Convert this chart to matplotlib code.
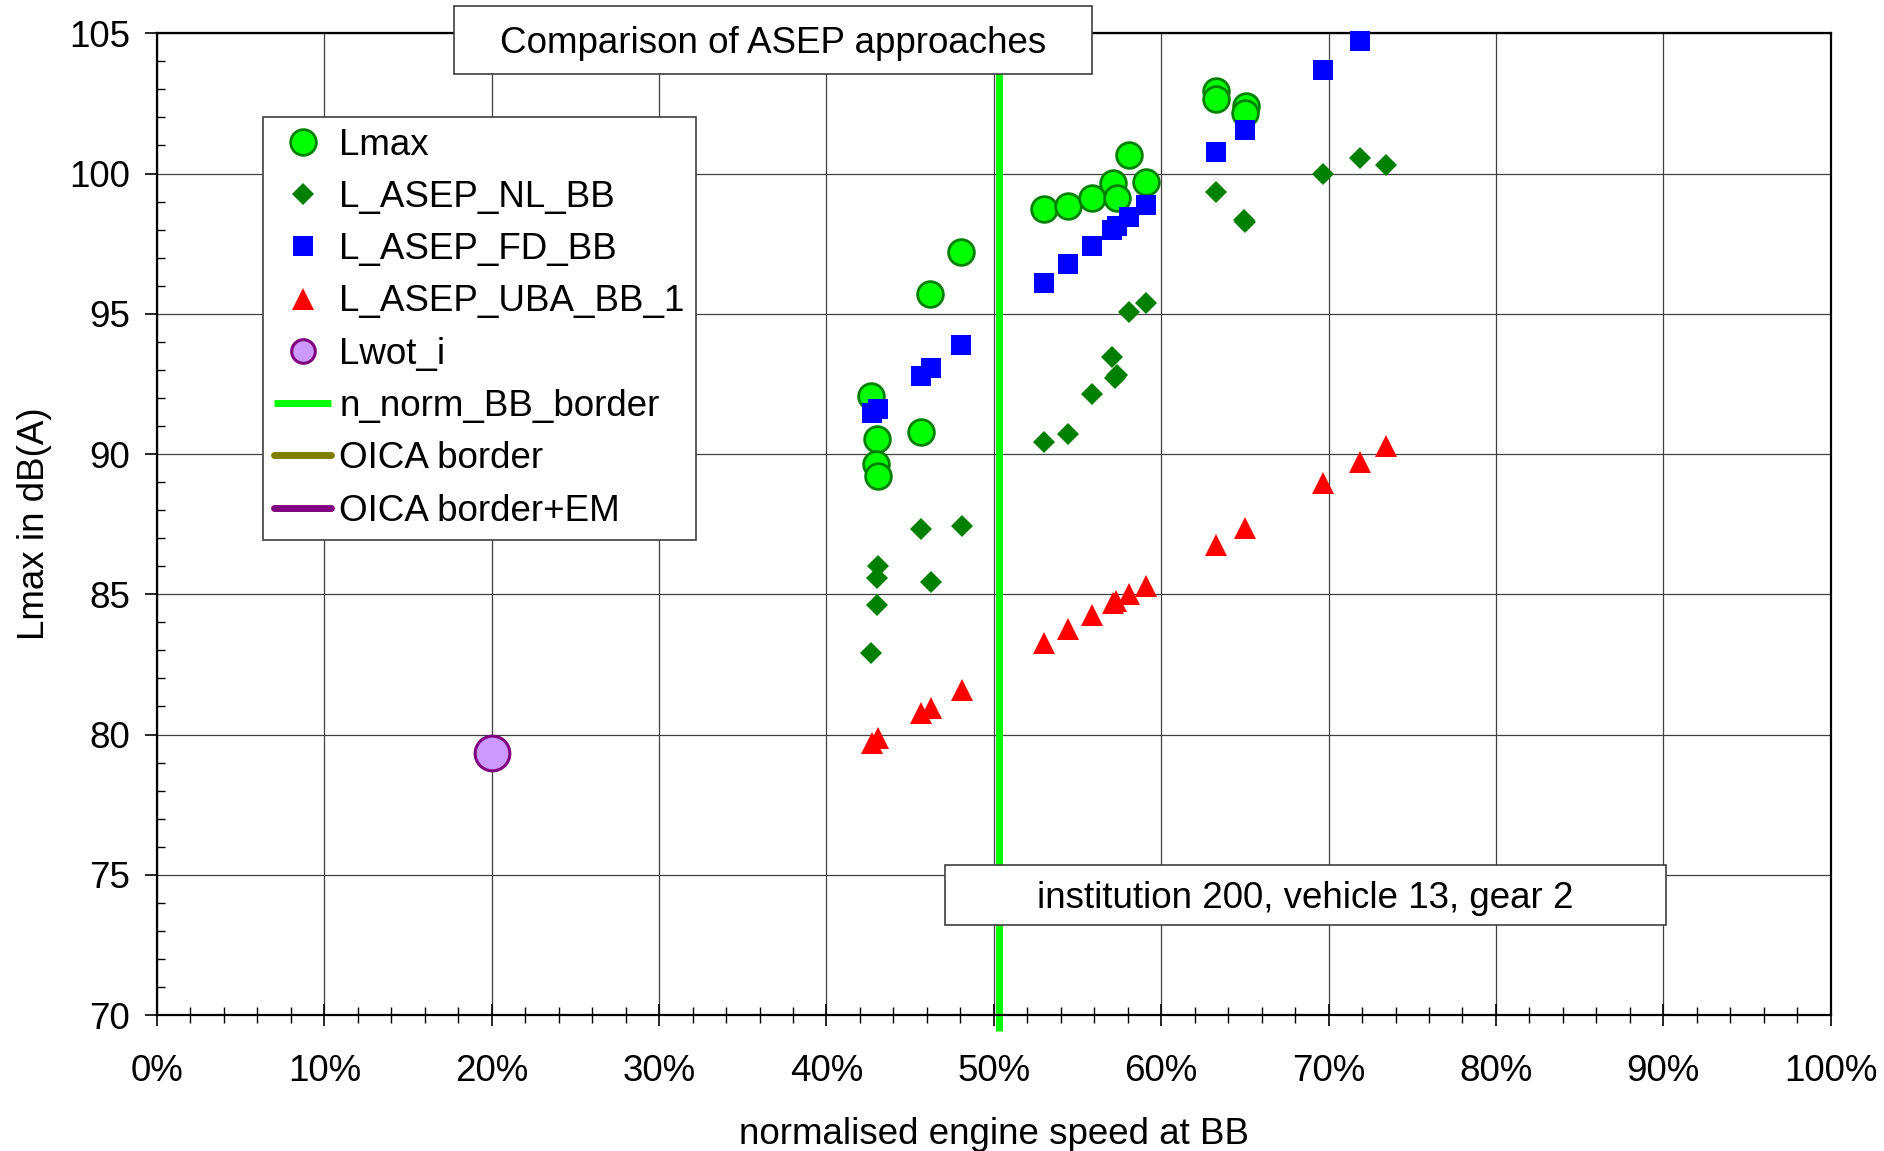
import numpy as np
import matplotlib
matplotlib.use("Agg")
import matplotlib.pyplot as plt
from matplotlib.patches import Rectangle
from matplotlib.ticker import MultipleLocator, PercentFormatter

plt.rcParams['font.family'] = ['Liberation Sans', 'DejaVu Sans']

# ---- data (x = normalised engine speed, y = dB(A)) ----
lmax_x = [0.4264, 0.4300, 0.4295, 0.4305, 0.4562, 0.4618, 0.4803, 0.5298, 0.5441,
          0.5586, 0.5714, 0.5734, 0.5810, 0.5909, 0.6326, 0.6326, 0.6505, 0.6500]
lmax_y = [92.08, 90.53, 89.65, 89.22, 90.80, 95.70, 97.21, 98.72, 98.83,
          99.12, 99.67, 99.12, 100.65, 99.69, 102.93, 102.66, 102.42, 102.16]

nl_x = [0.4267, 0.4299, 0.4299, 0.4309, 0.4564, 0.4624, 0.4810, 0.5301, 0.5445, 0.5588,
        0.5708, 0.5724, 0.5734, 0.5810, 0.5907, 0.6326, 0.6500, 0.6495, 0.6969, 0.7190, 0.7342]
nl_y = [82.89, 84.60, 85.57, 86.01, 87.32, 85.43, 87.44, 90.44, 90.73, 92.13,
        93.47, 92.72, 92.80, 95.06, 95.39, 99.35, 98.29, 98.36, 100.00, 100.54, 100.29]

fd_x = [0.4270, 0.4310, 0.4562, 0.4622, 0.4803, 0.5298, 0.5441, 0.5586,
        0.5704, 0.5734, 0.5810, 0.5909, 0.6326, 0.6500, 0.6969, 0.7190]
fd_y = [91.45, 91.60, 92.79, 93.06, 93.90, 96.10, 96.78, 97.41,
        98.00, 98.13, 98.45, 98.88, 100.77, 101.56, 103.70, 104.71]

uba_x = [0.4269, 0.4305, 0.4562, 0.4622, 0.4808, 0.5301, 0.5445, 0.5588, 0.5714,
         0.5730, 0.5810, 0.5907, 0.6328, 0.6501, 0.6969, 0.7190, 0.7342]
uba_y = [79.71, 79.87, 80.76, 80.96, 81.59, 83.27, 83.75, 84.25, 84.68,
         84.75, 85.00, 85.31, 86.75, 87.35, 88.96, 89.73, 90.27]

lwot_x = [0.200]
lwot_y = [79.35]

n_norm_bb_border = 0.503

title_txt = "Comparison of ASEP approaches"
info_txt = "institution 200, vehicle 13, gear 2"

FS = 26.5

fig = plt.figure(figsize=(18.84, 11.51), dpi=100)
W, H = 1884, 1151
ax = fig.add_axes([157 / W, 1 - 1015 / H, (1830.7 - 157) / W, (1015 - 33.3) / H])

ax.plot(lmax_x, lmax_y, ls='none', marker='o', ms=18.5, mfc='#00FF00', mec='#008000', mew=2,
        label='Lmax', zorder=3, clip_on=False)
ax.plot(nl_x, nl_y, ls='none', marker='D', ms=10.7, mfc='#008000', mec='#008000', mew=0,
        label='L_ASEP_NL_BB', zorder=3, clip_on=False)
ax.plot(fd_x, fd_y, ls='none', marker='s', ms=15, mfc='#0000FF', mec='#0000FF', mew=0,
        label='L_ASEP_FD_BB', zorder=3, clip_on=False)
ax.plot(uba_x, uba_y, ls='none', marker='^', ms=15.5, mfc='#FF0000', mec='#FF0000', mew=0,
        label='L_ASEP_UBA_BB_1', zorder=3, clip_on=False)
ax.plot(lwot_x, lwot_y, ls='none', marker='o', ms=25, mfc='#CC99FF', mec='#800080', mew=2.2,
        label='Lwot_i', zorder=3, clip_on=False)
ax.axvline(n_norm_bb_border, ymin=-0.016, ymax=1, color='#00FF00', lw=5, clip_on=False,
           solid_capstyle='butt', label='n_norm_BB_border', zorder=2.5)
ax.plot([], [], color='#808000', lw=5, solid_capstyle='round', label='OICA border')
ax.plot([], [], color='#800080', lw=5, solid_capstyle='round', label='OICA border+EM')

ax.set_xlim(0, 1)
ax.set_ylim(70, 105)
ax.xaxis.set_major_locator(MultipleLocator(0.1))
ax.xaxis.set_minor_locator(MultipleLocator(0.02))
ax.xaxis.set_major_formatter(PercentFormatter(1.0, decimals=0))
ax.yaxis.set_major_locator(MultipleLocator(5))
ax.yaxis.set_minor_locator(MultipleLocator(1))

ax.grid(True, which='major', color='#404040', lw=0.9, zorder=1)
ax.set_axisbelow(True)
for s in ax.spines.values():
    s.set_linewidth(1.6)
    s.set_color('black')

ax.tick_params(axis='x', which='major', direction='inout', length=16, width=1.2, labelsize=FS, pad=20)
ax.tick_params(axis='x', which='minor', direction='inout', length=12, width=1.0)
ax.tick_params(axis='y', which='major', direction='out', length=8.6, width=1.2, labelsize=FS, pad=11)
ax.tick_params(axis='y', which='minor', direction='in', length=6, width=1.0)

ax.set_xlabel("normalised engine speed at BB", fontsize=FS, labelpad=20)
ax.set_ylabel("Lmax in dB(A)", fontsize=FS, labelpad=12)

leg = ax.legend(loc='upper left', bbox_to_anchor=((263 - 157) / 1673.7, (1015 - 116.5) / 981.7),
                borderaxespad=0, fontsize=FS, fancybox=False, framealpha=1, edgecolor='#404040',
                handlelength=1.55, handletextpad=0.22, labelspacing=0.47, borderpad=0.3,
                numpoints=1)
leg.get_frame().set_linewidth(1.2)
leg.legend_handles[4].set_markersize(17)
leg.set_zorder(5)

# title box and info box
fig.patches.append(Rectangle((454 / W, 1 - 74 / H), 638 / W, 68 / H, transform=fig.transFigure,
                             facecolor='white', edgecolor='#404040', lw=1.2, zorder=6))
fig.text(773 / W, 1 - 43.5 / H, title_txt, ha='center', va='center', fontsize=FS, zorder=7)
fig.patches.append(Rectangle((945 / W, 1 - 925 / H), 721 / W, 60 / H, transform=fig.transFigure,
                             facecolor='white', edgecolor='#404040', lw=1.2, zorder=6))
fig.text(1305.5 / W, 1 - 898.5 / H, info_txt, ha='center', va='center', fontsize=FS, zorder=7)

fig.savefig("out.png", dpi=100)
